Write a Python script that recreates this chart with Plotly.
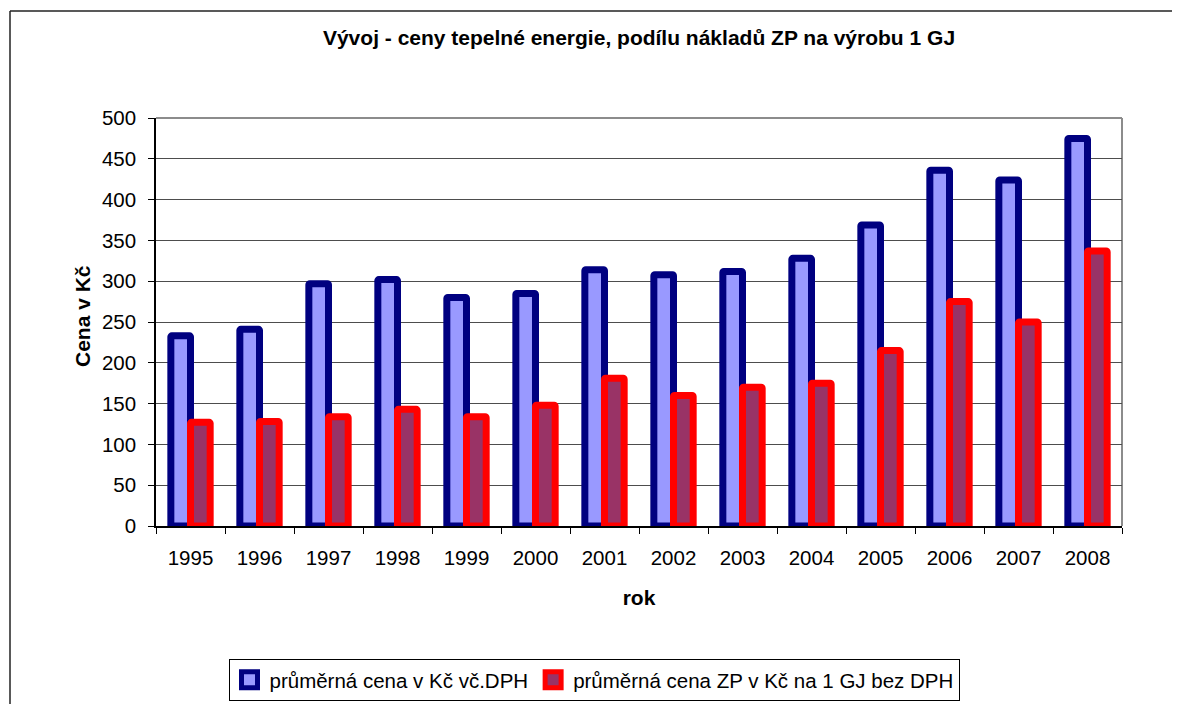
import plotly.graph_objects as go

years = ["1995", "1996", "1997", "1998", "1999", "2000", "2001",
         "2002", "2003", "2004", "2005", "2006", "2007", "2008"]
avg_price_vat = [233, 241, 297, 302, 280, 285, 314, 308, 312, 328, 369, 436, 424, 475]
gas_cost_per_gj = [127, 128, 134, 143, 134, 148, 181, 160, 170, 175, 215, 275, 250, 337]

series_names = ["průměrná cena v Kč vč.DPH", "průměrná cena ZP v Kč na 1 GJ bez DPH"]
title_text = "Vývoj - ceny tepelné energie, podílu nákladů ZP na výrobu 1 GJ"
y_title = "Cena v Kč"
x_title = "rok"
y_ticks = [0, 50, 100, 150, 200, 250, 300, 350, 400, 450, 500]

FONT = "Liberation Sans, Arial, sans-serif"
# page body has an 8px margin; figure is laid out so that screen pixels match the target
OFF = 8
W, H = 1180 - OFF, 704 - OFF
L = 156 - OFF
T = 118 - OFF
R = W - (1122 - OFF)
B = H - (526 - OFF)
PW = W - L - R
PH = H - T - B

def px_x(p):
    return (p - OFF - L) / PW

def px_y(p):
    return (H - B - (p - OFF)) / PH

BLUE_FILL, BLUE_LINE = "#9999FF", "#000080"
RED_FILL, RED_LINE = "#993366", "#FF0000"

fig = go.Figure()
fig.add_trace(go.Bar(
    x=years, y=avg_price_vat, name=series_names[0], showlegend=False,
    width=0.285, offset=-0.285,
    marker=dict(color=BLUE_FILL, line=dict(color=BLUE_LINE, width=7), cornerradius=1),
))
fig.add_trace(go.Bar(
    x=years, y=gas_cost_per_gj, name=series_names[1], showlegend=False,
    width=0.285, offset=0.0,
    marker=dict(color=RED_FILL, line=dict(color=RED_LINE, width=7), cornerradius=1),
))
# legend entries (thick-bordered square keys like the original)
for nm, fc, lc in [(series_names[0], BLUE_FILL, BLUE_LINE), (series_names[1], RED_FILL, RED_LINE)]:
    fig.add_trace(go.Scatter(
        x=[None], y=[None], mode="markers", name=nm, showlegend=True,
        marker=dict(symbol="square", size=16, color=fc, line=dict(color=lc, width=5)),
    ))

shapes = [
    dict(type="line", xref="paper", yref="paper", x0=px_x(10), x1=px_x(1250),
         y0=px_y(11), y1=px_y(11), line=dict(color="#222222", width=1.5)),
    dict(type="line", xref="paper", yref="paper", x0=px_x(10), x1=px_x(10),
         y0=px_y(11), y1=px_y(760), line=dict(color="#222222", width=1.5)),
    dict(type="line", xref="paper", yref="paper", x0=0, x1=1, y0=1, y1=1,
         line=dict(color="#8c8c8c", width=2), layer="below"),
    dict(type="line", xref="paper", yref="paper", x0=1, x1=1, y0=0, y1=1,
         line=dict(color="#8c8c8c", width=2), layer="below"),
]

annotations = [
    dict(text="<b>" + y_title + "</b>", xref="paper", yref="paper",
         x=px_x(82), y=px_y(316), xanchor="center", yanchor="middle",
         textangle=-90, showarrow=False,
         font=dict(family=FONT, size=21, color="black")),
]

fig.update_layout(
    width=W, height=H,
    margin=dict(l=L, r=R, t=T, b=B, autoexpand=False),
    paper_bgcolor="white", plot_bgcolor="white",
    barmode="overlay",
    font=dict(family=FONT, color="black", size=20.5),
    title=dict(text="<b>" + title_text + "</b>", x=px_x(639), xref="paper", xanchor="center",
               y=1 - (38 - OFF) / H, yref="container", yanchor="middle",
               font=dict(family=FONT, size=21, color="black")),
    showlegend=True,
    legend=dict(orientation="h", x=px_x(594), y=px_y(680), xanchor="center", yanchor="middle",
                bordercolor="black", borderwidth=1, bgcolor="white",
                font=dict(family=FONT, size=20.5, color="black"),
                itemsizing="trace", tracegroupgap=0),
    shapes=shapes,
    annotations=annotations,
    xaxis=dict(
        type="category", categoryorder="array", categoryarray=years,
        showline=True, linecolor="black", linewidth=1.5,
        ticks="outside", tickson="boundaries", ticklen=6, tickcolor="black",
        ticklabelstandoff=13,
        showgrid=False, tickfont=dict(family=FONT, size=20.5, color="black"),
        title=dict(text="<b>" + x_title + "</b>", standoff=22,
                   font=dict(family=FONT, size=21, color="black")),
    ),
    yaxis=dict(
        range=[0, 500], tickvals=y_ticks,
        showline=True, linecolor="black", linewidth=1.5,
        ticks="outside", ticklen=6, tickcolor="black",
        ticklabelstandoff=8,
        showgrid=True, gridcolor="#4d4d4d", gridwidth=1,
        zeroline=False,
        tickfont=dict(family=FONT, size=20.5, color="black"),
    ),
)

fig.write_html("out.html")
